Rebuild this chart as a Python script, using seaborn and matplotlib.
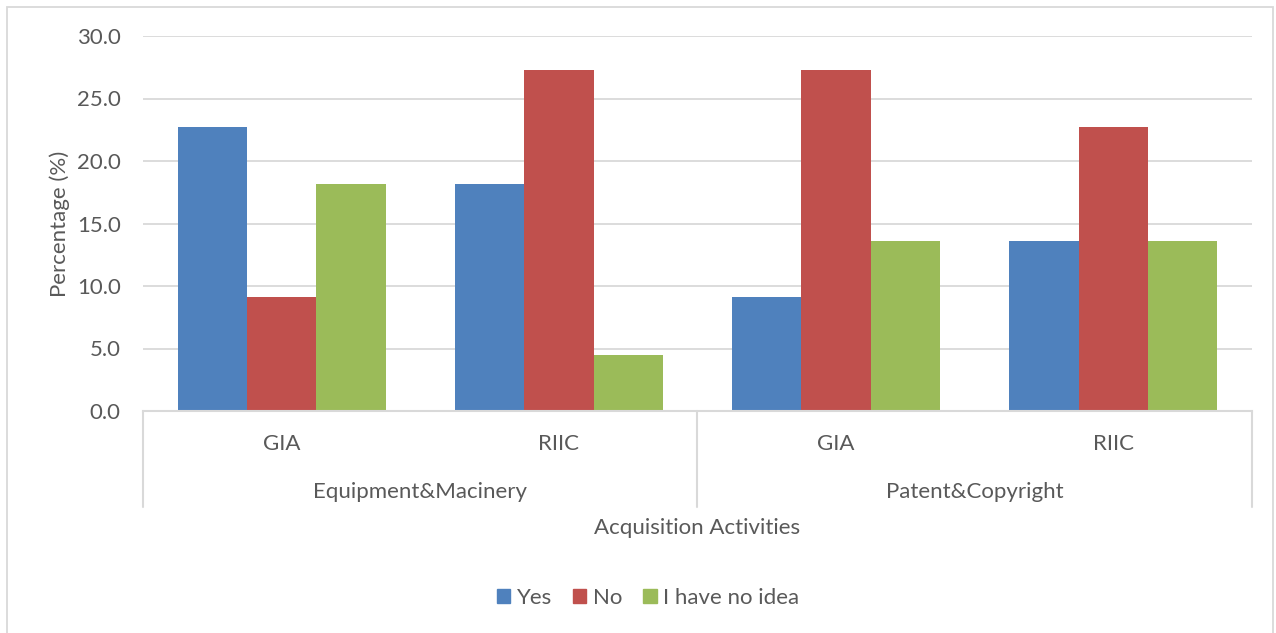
import matplotlib
matplotlib.use("Agg")
import matplotlib.pyplot as plt
import matplotlib.patches as mpatches
import seaborn as sns
import pandas as pd

# Survey responses (% of respondents)
activities = ["Equipment&Macinery", "Patent&Copyright"]
programs = ["GIA", "RIIC"]
responses = ["Yes", "No", "I have no idea"]
yes_vals = [22.7, 18.2, 9.1, 13.6]
no_vals = [9.1, 27.3, 27.3, 22.7]
noidea_vals = [18.2, 4.5, 13.6, 13.6]
colors = ["#4F81BD", "#C0504D", "#9BBB59"]

combos = [f"{a}|{p}" for a in activities for p in programs]
rows = []
for resp, vals in zip(responses, [yes_vals, no_vals, noidea_vals]):
    for c, v in zip(combos, vals):
        rows.append({"combo": c, "response": resp, "pct": v})
df = pd.DataFrame(rows)

sns.set_style("white")
plt.rcParams["font.family"] = ["Lato", "DejaVu Sans"]
text_color = "#595959"
grid_color = "#D9D9D9"
fs = 16

fig = plt.figure(figsize=(12.76, 6.33), dpi=100)
ax = fig.add_axes([143 / 1276, 1 - 411 / 633, (1252 - 143) / 1276, (411 - 36) / 633])

sns.barplot(data=df, x="combo", y="pct", hue="response", order=combos,
            hue_order=responses, palette=colors, width=0.75, ax=ax,
            saturation=1, legend=False, linewidth=0)

ax.set_ylim(0, 30)
ax.set_yticks(range(0, 31, 5))
ax.set_yticklabels([f"{v:.1f}" for v in range(0, 31, 5)], fontsize=fs, color=text_color)
ax.tick_params(axis="y", length=0, pad=16)
ax.yaxis.grid(True, color=grid_color, linewidth=1.3)
ax.set_axisbelow(True)
for side in ["top", "right", "left"]:
    ax.spines[side].set_visible(False)
ax.spines["bottom"].set_color(grid_color)
ax.spines["bottom"].set_linewidth(1.5)
ax.set_xlim(-0.5, len(combos) - 0.5)
ax.set_xticks([])
ax.set_xlabel("")
ax.set_ylabel("Percentage (%)", fontsize=fs, color=text_color, labelpad=5)

# Two-level category axis
xt = ax.get_xaxis_transform()
ax_h = 411 - 36
for i, c in enumerate(combos):
    prog = c.split("|")[1]
    ax.annotate(prog, xy=(i, 0), xycoords=xt, xytext=(0, -33),
                textcoords="offset pixels", ha="center", va="center",
                fontsize=fs, color=text_color)
for j, a in enumerate(activities):
    center = j * len(programs) + (len(programs) - 1) / 2
    ax.annotate(a, xy=(center, 0), xycoords=xt, xytext=(0, -81),
                textcoords="offset pixels", ha="center", va="center",
                fontsize=fs, color=text_color)
for k in range(len(activities) + 1):
    xs = k * len(programs) - 0.5
    ax.plot([xs, xs], [0, -96 / ax_h], transform=xt, color=grid_color,
            linewidth=1.5, clip_on=False)

fig.text(697 / 1276, 1 - 528 / 633, "Acquisition Activities", ha="center",
         va="center", fontsize=fs, color=text_color)

handles = [mpatches.Patch(color=col, label=lab) for col, lab in zip(colors, responses)]
fig.legend(handles=handles, loc="center", bbox_to_anchor=(648 / 1276, 1 - 598 / 633),
           ncol=3, frameon=False, fontsize=fs, labelcolor=text_color,
           handlelength=0.6, handleheight=0.6, handletextpad=0.3, columnspacing=0.95)

# Chart-area border
fig.patches.append(mpatches.Rectangle((7 / 1276, -0.01), (1273 - 7) / 1276, 1 - 7 / 633 + 0.01,
                                      transform=fig.transFigure, fill=False,
                                      edgecolor=grid_color, linewidth=1.3))

fig.savefig("out.png", dpi=100)
